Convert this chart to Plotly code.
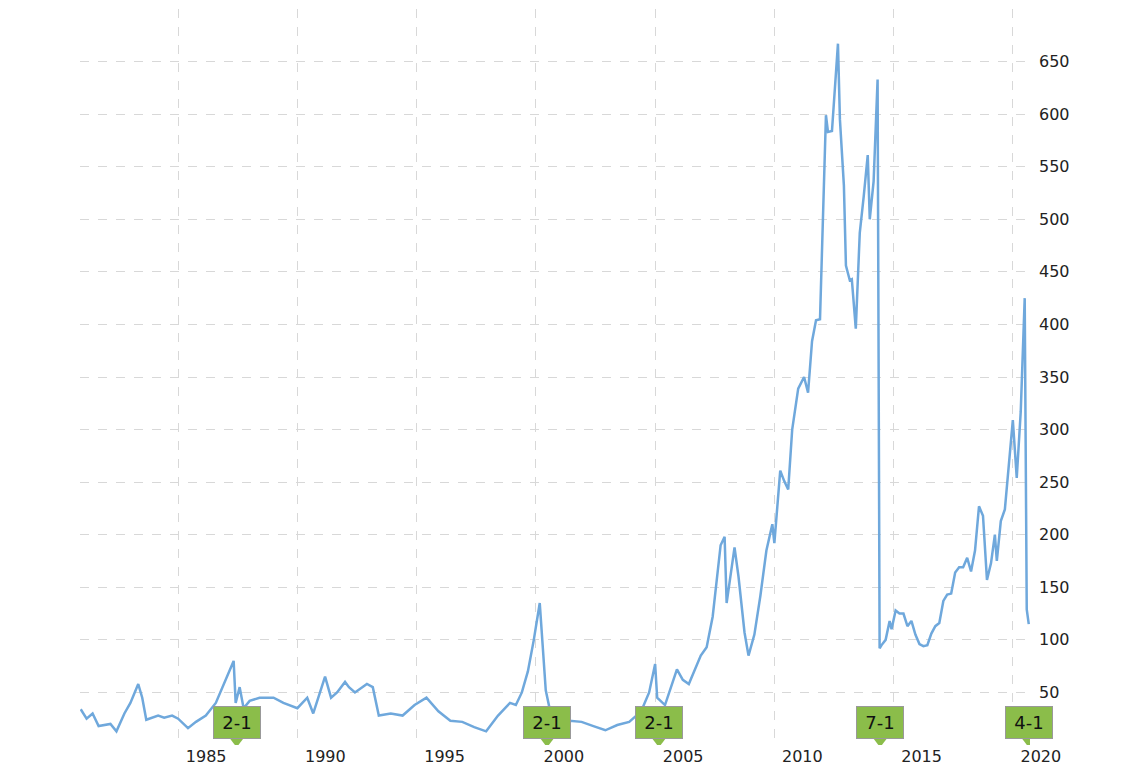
import plotly.graph_objects as go

dates = ["1980-12","1981-03","1981-06","1981-09","1982-03","1982-06","1982-10","1983-01","1983-05","1983-07","1983-09","1983-12",
"1984-03","1984-06","1984-10","1985-01","1985-06","1985-10","1986-03","1986-08","1987-03","1987-05","1987-06","1987-08","1987-10",
"1988-01","1988-06","1989-01","1989-06","1990-01","1990-06","1990-09","1991-03","1991-06","1991-09","1992-01","1992-03","1992-06","1992-12",
"1993-03","1993-06","1993-12","1994-06","1994-12","1995-06","1995-12","1996-06","1996-12","1997-06","1997-12","1998-06","1998-12",
"1999-03","1999-06","1999-09","1999-12","2000-03","2000-05","2000-06","2000-09","2000-12","2001-06","2001-12","2002-06","2002-12",
"2003-06","2003-12","2004-06","2004-10","2005-01","2005-02","2005-06","2005-12","2006-03","2006-06","2006-12","2007-03","2007-06",
"2007-10","2007-12","2008-01","2008-05","2008-07","2008-10","2008-12","2009-03","2009-06","2009-09","2009-12","2010-01","2010-04",
"2010-06","2010-08","2010-10","2011-01","2011-04","2011-06","2011-08","2011-10","2011-12","2012-03","2012-04","2012-06","2012-09",
"2012-10","2012-12","2013-01","2013-03","2013-04","2013-06","2013-08","2013-10","2013-12","2014-01","2014-03","2014-05","2014-06",
"2014-07","2014-09","2014-11","2014-12","2015-02","2015-04","2015-06","2015-08","2015-10","2015-12","2016-02","2016-04","2016-06",
"2016-08","2016-10","2016-12","2017-02","2017-04","2017-06","2017-08","2017-10","2017-12","2018-02","2018-04","2018-06","2018-08",
"2018-10","2018-12","2019-02","2019-04","2019-05","2019-07","2019-09","2019-12","2020-01","2020-03","2020-05","2020-07","2020-08","2020-09"]
prices = [34,25,30,18,20,13,30,40,58,45,24,26,
28,26,28,25,16,22,28,40,70,80,40,55,35,
42,45,45,40,35,45,30,65,45,50,60,55,50,58,
55,28,30,28,38,45,32,23,22,17,13,28,40,
38,50,70,100,135,85,52,25,15,23,22,18,14,
19,22,32,50,77,45,38,72,62,58,85,93,122,
190,198,135,188,160,107,85,105,142,185,210,192,261,
251,243,300,339,350,335,384,404,405,599,583,584,667,
595,532,456,442,443,396,487,522,561,500,536,633,92,
95,100,118,110,128,125,125,113,118,105,96,94,95,
106,113,116,137,143,144,164,169,169,178,165,185,227,
218,157,173,200,175,213,224,293,309,254,317,425,129,115]

split_dates = ["1987-06-16","2000-06-21","2005-02-28","2014-06-09","2020-08-31"]
split_labels = ["2-1","2-1","2-1","7-1","4-1"]

year_ticks = [1985,1990,1995,2000,2005,2010,2015,2020]
y_ticks = list(range(0,701,50))

fig = go.Figure()
fig.add_trace(go.Scatter(x=dates, y=prices, mode="lines",
    line=dict(color="#6fa8dc", width=2.5), hoverinfo="skip"))
fig.add_trace(go.Scatter(x=split_dates, y=[3.5]*5, mode="markers",
    marker=dict(symbol="triangle-down", size=12, color="#8bbd4a", line=dict(width=0)),
    hoverinfo="skip"))
for d, t in zip(split_dates, split_labels):
    fig.add_annotation(x=d, y=0, yanchor="bottom", yshift=6, text=t, showarrow=False,
        font=dict(family="DejaVu Sans", size=18, color="#111"),
        bgcolor="#8bbd4a", bordercolor="#999", borderwidth=1, borderpad=5, width=36)

fig.update_layout(
    width=1140, height=784, showlegend=False,
    paper_bgcolor="white", plot_bgcolor="white",
    margin=dict(l=72, r=118, t=1, b=47),
    font=dict(family="DejaVu Sans", size=16, color="#222"),
    xaxis=dict(range=["1980-11-20","2020-09-20"], tickvals=[f"{y}-01-01" for y in year_ticks],
        ticktext=[str(y) for y in year_ticks], ticklabelshift=28,
        showgrid=True, gridcolor="#d8d8d8", griddash="dash", zeroline=False, showline=False,
        ticks=""),
    yaxis=dict(range=[0,700], side="right", tickvals=y_ticks,
        ticktext=["" if v in (0,700) else str(v) for v in y_ticks],
        showgrid=True, gridcolor="#d8d8d8", griddash="dash", zeroline=False, ticks="",
        ticklabelstandoff=8),
)
fig.write_html("out.html")
